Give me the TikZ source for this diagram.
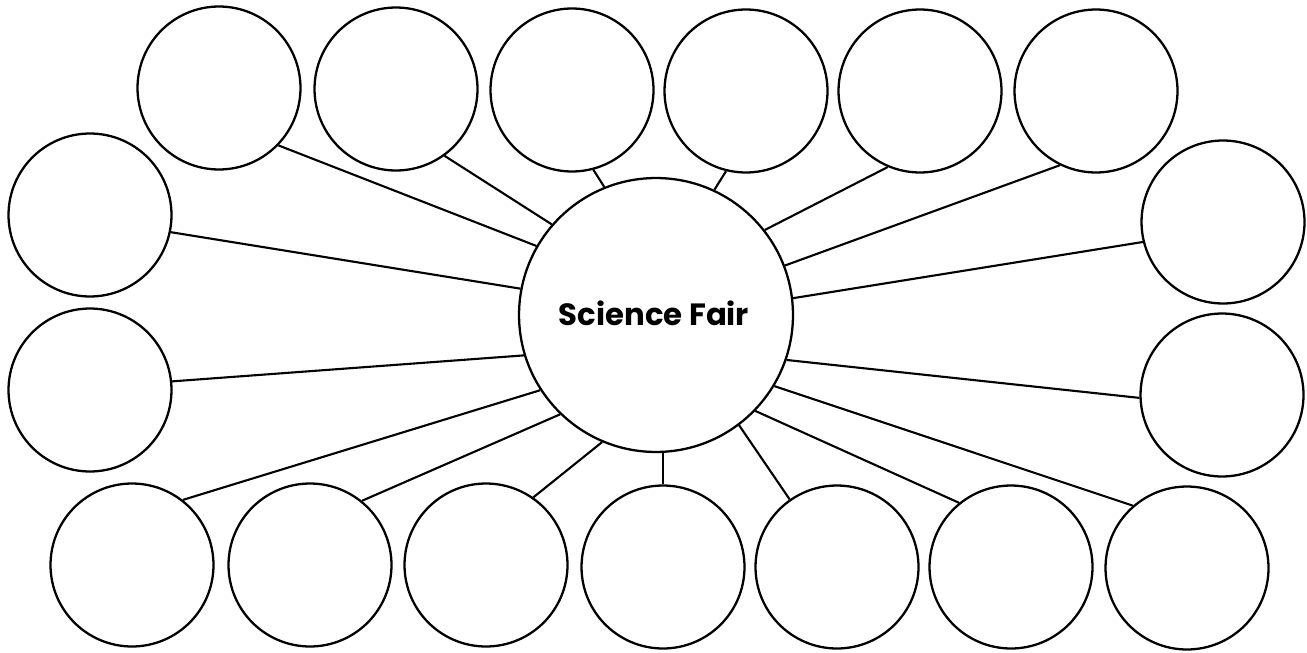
\documentclass[tikz,border=0pt]{standalone}
\usepackage{fontspec}
\newfontfamily\labelfont{Poppins}[UprightFont=*-SemiBold,BoldFont=*-Bold]
\begin{document}
\begin{tikzpicture}[x=0.02cm,y=-0.02cm,
  bubble/.style={draw=black,circle,line width=1.3pt,minimum size=3.26cm,inner sep=0pt},
  hub/.style={draw=black,circle,line width=1.3pt,minimum size=5.48cm,inner sep=0pt},
  spoke/.style={draw=black,line width=1.2pt}]
\useasboundingbox (0,0) rectangle (1307,652);
\node[hub] (C) at (656,315) {};
\node (T) at (654,313) {\labelfont\fontsize{17.5}{21}\selectfont\textbf{Science Fair}};
\node[bubble] (t1) at (219,88) {};
\node[bubble] (t2) at (396,89) {};
\node[bubble] (t3) at (572,90) {};
\node[bubble] (t4) at (746,91) {};
\node[bubble] (t5) at (920,91) {};
\node[bubble] (t6) at (1096,91) {};
\node[bubble] (l1) at (90,215) {};
\node[bubble] (l2) at (90,390) {};
\node[bubble] (r1) at (1223,222) {};
\node[bubble] (r2) at (1222,395) {};
\node[bubble] (b1) at (132,565) {};
\node[bubble] (b2) at (310,565) {};
\node[bubble] (b3) at (486,565) {};
\node[bubble] (b4) at (663,567) {};
\node[bubble] (b5) at (837,567) {};
\node[bubble] (b6) at (1011,567) {};
\node[bubble] (b7) at (1187,568) {};
\draw[spoke] (t1.-44) -- (C.150.3);
\draw[spoke] (t2.-54.8) -- (C.139.4);
\draw[spoke] (t3.-75.3) -- (C.112.3);
\draw[spoke] (t4.-104.5) -- (C.65.5);
\draw[spoke] (t5.-113.5) -- (C.38);
\draw[spoke] (t6.-116.6) -- (C.21);
\draw[spoke] (l1.-12.2) -- (C.169.6);
\draw[spoke] (r1.-166) -- (C.7.9);
\draw[spoke] (l2.6.2) -- (C.-163.1);
\draw[spoke] (r2.-178.6) -- (C.-19.9);
\draw[spoke] (b1.52.3) -- (C.-147.6);
\draw[spoke] (b2.51.8) -- (C.-134.1);
\draw[spoke] (b3.55.2) -- (C.-113.3);
\draw[spoke] (b4.north) -- (C.south -| b4.north);
\draw[spoke] (b5.125) -- (C.-53.5);
\draw[spoke] (b6.129.6) -- (C.-44.1);
\draw[spoke] (b7.131.6) -- (C.-31.4);
\end{tikzpicture}
\end{document}
